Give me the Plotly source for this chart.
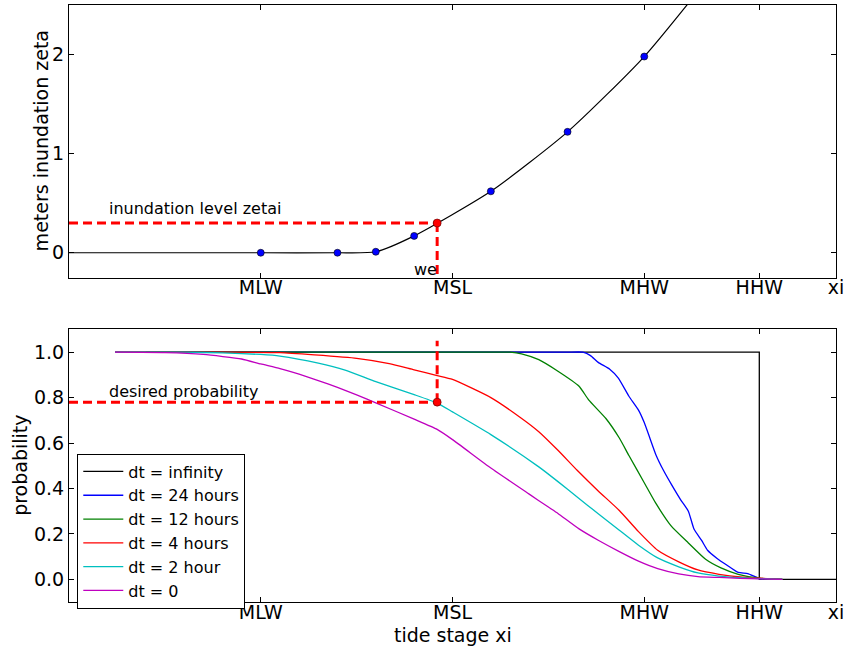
import plotly.graph_objects as go

# ---------------- data ----------------
tick_vals = [-1.0, 0.0, 1.0, 1.6, 2.0]
tick_text = ["MLW", "MSL", "MHW", "HHW", "xi"]

# top panel: inundation depth vs tide stage
stage_pts = [-1.0, -0.6, -0.4, -0.2, 0.2, 0.6, 1.0, 1.4]
zeta_pts = [0.0, 0.0, 0.01, 0.17, 0.62, 1.22, 1.98, 2.93]
curve_left = [-2.0, 0.0]          # flat start of the curve at left edge
we = -0.08
zetai = 0.30
desired_p = 0.78
prob_mark_top = 1.05

# bottom panel: probability curves
inf_x = [-1.6, 1.6, 1.6, 2.0]
inf_y = [1.0, 1.0, 0.0, 0.0]

h24_x = [-1.76, 0.0, 0.5, 0.6, 0.68, 0.72, 0.76, 0.82, 0.865, 0.92, 0.97, 1.0, 1.03,
         1.06, 1.1, 1.14, 1.19, 1.23, 1.26, 1.3, 1.33, 1.38, 1.43, 1.49, 1.54, 1.6, 1.72]
h24_y = [1.0, 1.0, 1.0, 1.0, 1.0, 0.985, 0.955, 0.925, 0.886, 0.806, 0.745, 0.69, 0.62,
         0.55, 0.48, 0.42, 0.35, 0.3, 0.22, 0.17, 0.128, 0.092, 0.063, 0.03, 0.025, 0.004, 0.0]

h12_x = [-1.76, -0.5, 0.1, 0.2, 0.3, 0.36, 0.45, 0.55, 0.66, 0.71, 0.8, 0.87, 0.92,
         1.0, 1.06, 1.14, 1.23, 1.32, 1.4, 1.49, 1.6, 1.72]
h12_y = [1.0, 1.0, 1.0, 1.0, 1.0, 0.993, 0.967, 0.916, 0.85, 0.79, 0.708, 0.622, 0.545,
         0.425, 0.335, 0.235, 0.16, 0.088, 0.05, 0.022, 0.005, 0.0]

h4_x = [-1.76, -1.4, -1.2, -0.9, -0.72, -0.5, -0.33, -0.2, -0.08, 0.0, 0.2, 0.35, 0.45,
        0.55, 0.65, 0.76, 0.87, 0.97, 1.07, 1.18, 1.28, 1.39, 1.5, 1.6, 1.72]
h4_y = [1.0, 1.0, 1.0, 0.998, 0.988, 0.973, 0.95, 0.922, 0.897, 0.88, 0.80, 0.715, 0.65,
        0.568, 0.48, 0.389, 0.303, 0.21, 0.128, 0.077, 0.041, 0.022, 0.01, 0.005, 0.0]

h2_x = [-1.76, -1.5, -1.4, -1.2, -1.0, -0.9, -0.7, -0.56, -0.4, -0.2, -0.08, 0.0, 0.2,
        0.45, 0.55, 0.65, 0.76, 0.87, 0.97, 1.07, 1.18, 1.28, 1.39, 1.5, 1.6, 1.72]
h2_y = [1.0, 1.0, 1.0, 0.997, 0.99, 0.983, 0.952, 0.921, 0.87, 0.813, 0.776, 0.737, 0.637,
        0.495, 0.43, 0.362, 0.289, 0.216, 0.15, 0.094, 0.055, 0.028, 0.014, 0.007, 0.003, 0.0]

h0_x = [-1.76, -1.5, -1.3, -1.1, -1.0, -0.9, -0.8, -0.7, -0.6, -0.5, -0.4, -0.2,
        -0.08, 0.0, 0.2, 0.4, 0.5, 0.55, 0.66, 0.76, 0.87, 0.97, 1.07, 1.18, 1.28,
        1.39, 1.5, 1.6, 1.72]
h0_y = [1.0, 0.998, 0.99, 0.97, 0.948, 0.928, 0.903, 0.875, 0.845, 0.812, 0.777, 0.705,
        0.66, 0.615, 0.49, 0.375, 0.318, 0.29, 0.222, 0.172, 0.122, 0.08, 0.047, 0.024,
        0.012, 0.008, 0.004, 0.002, 0.0]

series = [
    ("dt = infinity", inf_x, inf_y, "#000000", "linear"),
    ("dt = 24 hours", h24_x, h24_y, "#0000ff", "spline"),
    ("dt = 12 hours", h12_x, h12_y, "#008000", "spline"),
    ("dt = 4 hours", h4_x, h4_y, "#ff0000", "spline"),
    ("dt = 2 hour", h2_x, h2_y, "#00bfbf", "spline"),
    ("dt = 0", h0_x, h0_y, "#bf00bf", "spline"),
]

FONT = "DejaVu Sans"
fig = go.Figure()

# ---------------- top panel ----------------
fig.add_trace(go.Scatter(
    x=[curve_left[0]] + stage_pts, y=[curve_left[1]] + zeta_pts,
    mode="lines", line=dict(color="black", width=1.2, shape="spline", smoothing=0.6),
    showlegend=False, xaxis="x", yaxis="y", hoverinfo="skip"))
fig.add_trace(go.Scatter(
    x=stage_pts, y=zeta_pts, mode="markers",
    marker=dict(color="#0000ff", size=7, line=dict(color="black", width=0.6)),
    showlegend=False, xaxis="x", yaxis="y"))
red_dash = dict(color="#ff0000", width=3, dash="9px,5px")
fig.add_trace(go.Scatter(x=[-2.0, we], y=[zetai, zetai], mode="lines", line=red_dash,
                         showlegend=False, xaxis="x", yaxis="y"))
fig.add_trace(go.Scatter(x=[we, we], y=[zetai, -0.25], mode="lines", line=red_dash,
                         showlegend=False, xaxis="x", yaxis="y"))
fig.add_trace(go.Scatter(x=[we], y=[zetai], mode="markers",
                         marker=dict(color="#ff0000", size=8, line=dict(color="#550000", width=0.6)),
                         showlegend=False, xaxis="x", yaxis="y"))

# ---------------- bottom panel ----------------
for name, xs, ys, col, shape in series:
    line = dict(color=col, width=1.3, shape=shape)
    if shape == "spline":
        line["smoothing"] = 0.5
    fig.add_trace(go.Scatter(x=xs, y=ys, mode="lines", name=name, line=line,
                             xaxis="x2", yaxis="y2"))
fig.add_trace(go.Scatter(x=[-2.0, we], y=[desired_p, desired_p], mode="lines", line=red_dash,
                         showlegend=False, xaxis="x2", yaxis="y2"))
fig.add_trace(go.Scatter(x=[we, we], y=[desired_p, prob_mark_top], mode="lines", line=red_dash,
                         showlegend=False, xaxis="x2", yaxis="y2"))
fig.add_trace(go.Scatter(x=[we], y=[desired_p], mode="markers",
                         marker=dict(color="#ff0000", size=8, line=dict(color="#550000", width=0.6)),
                         showlegend=False, xaxis="x2", yaxis="y2"))

axis_common = dict(showline=True, linecolor="black", linewidth=1, mirror="ticks",
                   ticks="inside", ticklen=5, tickcolor="black", showgrid=False,
                   zeroline=False, tickfont=dict(family=FONT, size=19, color="black"))

fig.update_layout(
    width=848, height=650,
    margin=dict(l=69, r=10, t=4, b=48),
    paper_bgcolor="white", plot_bgcolor="white",
    font=dict(family=FONT, color="black"),
    xaxis=dict(domain=[0, 1], range=[-2, 2], tickvals=tick_vals, ticktext=tick_text,
               anchor="y", **axis_common),
    yaxis=dict(domain=[0.5435, 1], range=[-0.25, 2.5], tickvals=[0, 1, 2],
               anchor="x", **axis_common),
    xaxis2=dict(domain=[0, 1], range=[-2, 2], tickvals=tick_vals, ticktext=tick_text,
                anchor="y2", **axis_common),
    yaxis2=dict(domain=[0, 0.4565], range=[-0.1, 1.1],
                tickvals=[0, 0.2, 0.4, 0.6, 0.8, 1.0], tickformat=".1f",
                anchor="x2", **axis_common),
    legend=dict(x=0.0108, y=0.2487, xanchor="left", yanchor="top",
                bgcolor="white", bordercolor="black", borderwidth=1,
                font=dict(family=FONT, size=16, color="black")),
    annotations=[
        dict(text="meters inundation zeta", xref="paper", yref="paper",
             x=-0.0364, y=0.7717, textangle=-90, showarrow=False,
             xanchor="center", yanchor="middle", font=dict(family=FONT, size=19)),
        dict(text="probability", xref="paper", yref="paper",
             x=-0.0637, y=0.2283, textangle=-90, showarrow=False,
             xanchor="center", yanchor="middle", font=dict(family=FONT, size=19)),
        dict(text="tide stage xi", xref="paper", yref="paper",
             x=0.5, y=-0.0552, showarrow=False,
             xanchor="center", yanchor="middle", font=dict(family=FONT, size=19)),
        dict(text="inundation level zetai", xref="x", yref="y",
             x=-1.80, y=0.447, showarrow=False, xanchor="left", yanchor="middle",
             font=dict(family=FONT, size=16)),
        dict(text="we", xref="x", yref="y",
             x=-0.07, y=-0.165, showarrow=False, xanchor="right", yanchor="middle",
             font=dict(family=FONT, size=16)),
        dict(text="desired probability", xref="x2", yref="y2",
             x=-1.80, y=0.828, showarrow=False, xanchor="left", yanchor="middle",
             font=dict(family=FONT, size=16)),
    ],
)

# pull x tick labels closer to the axis line, widen legend symbol column
for ax in ("xaxis", "xaxis2"):
    try:
        fig.layout[ax].ticklabelstandoff = -7
    except Exception:
        pass
try:
    fig.layout.legend.itemwidth = 40
except Exception:
    pass

fig.write_html("out.html")
